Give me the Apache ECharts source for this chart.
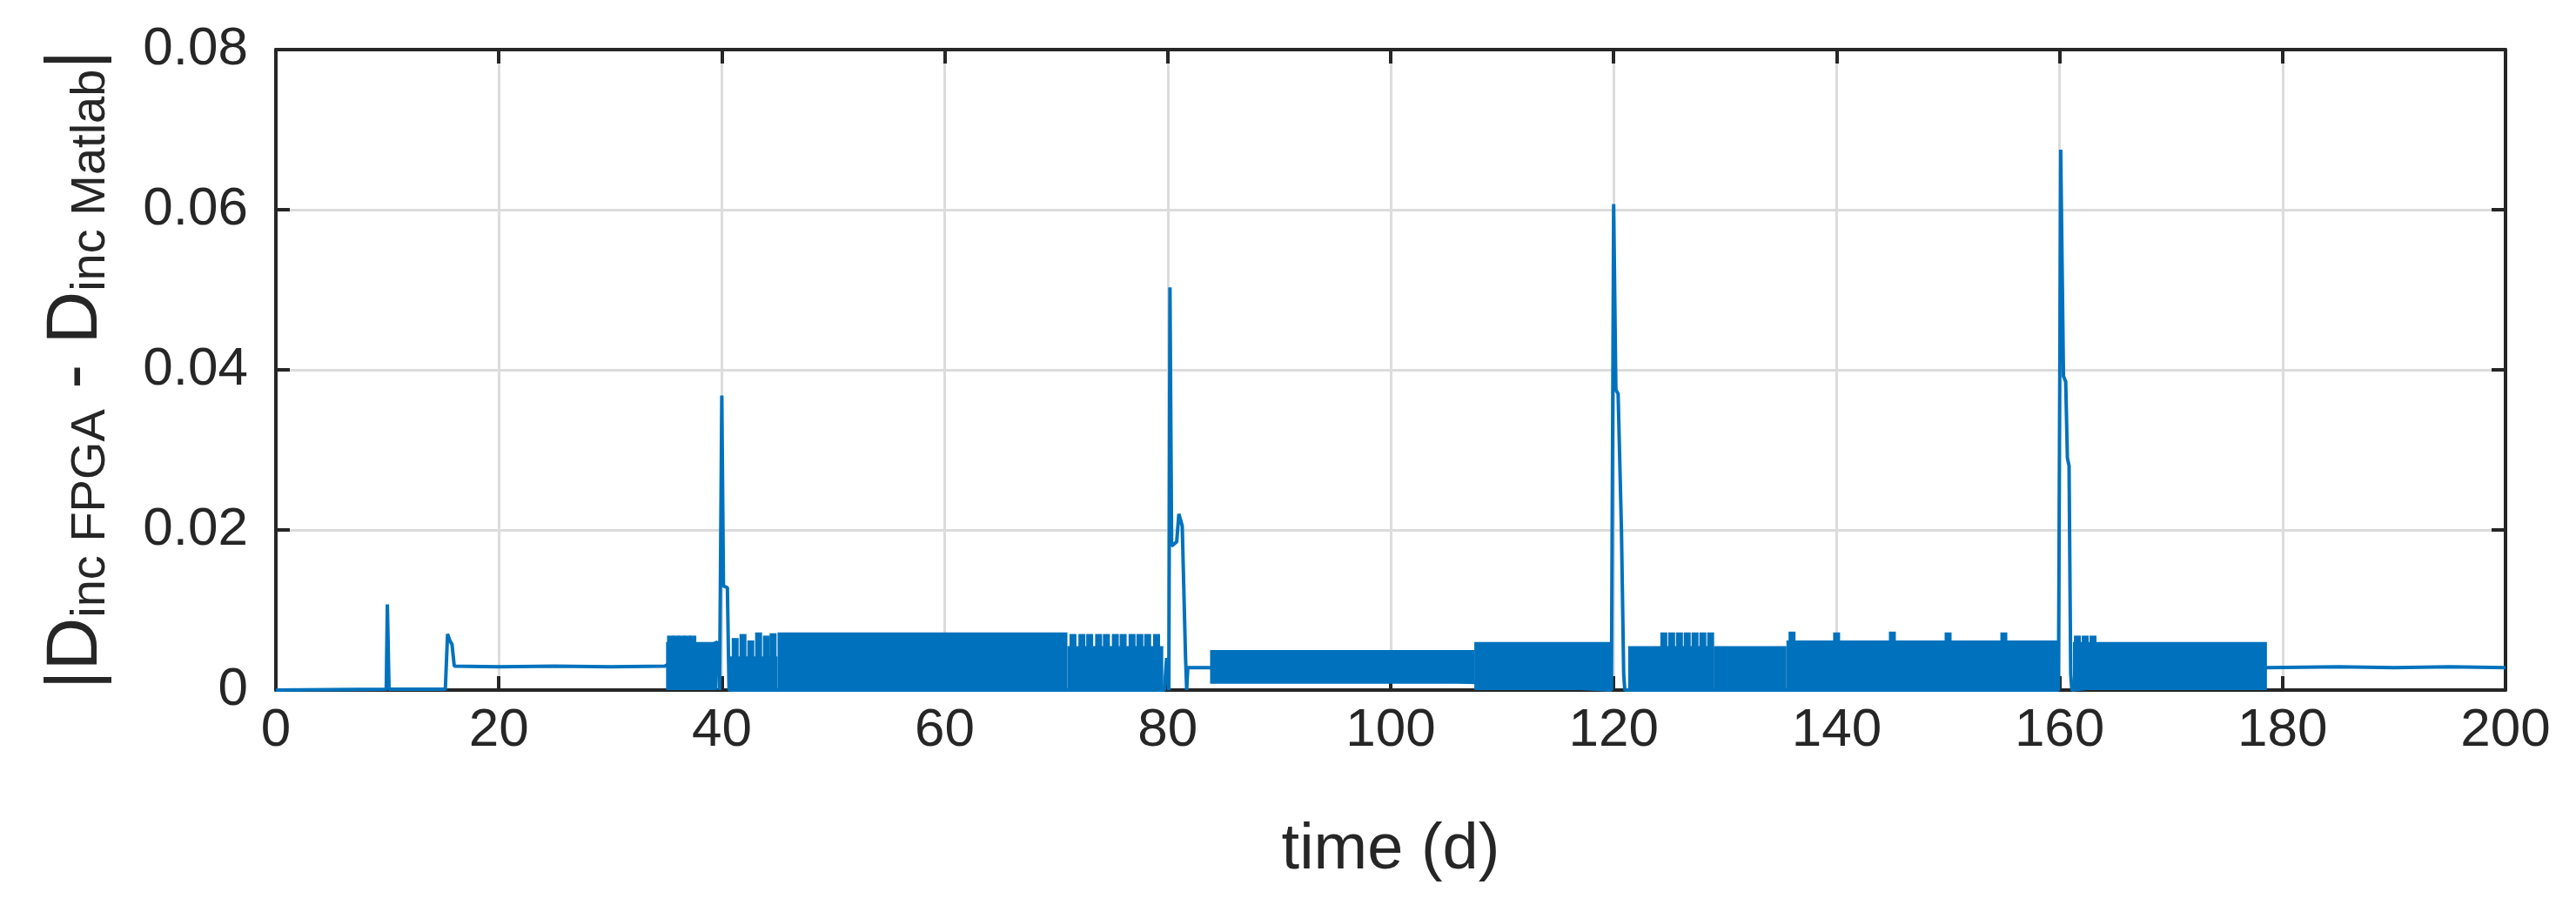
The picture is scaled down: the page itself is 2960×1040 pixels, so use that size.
<!DOCTYPE html>
<html><head><meta charset="utf-8">
<script src="https://cdn.jsdelivr.net/npm/echarts@6/dist/echarts.min.js"></script>
<style>html,body{margin:0;background:#fff}#c{width:2960px;height:1040px}</style>
</head><body><div id="c"></div>
<script>
// Explicit trace points [time, value] for flat parts and spikes
const tracePoints = [
 [0,0],[9.9,0.0001],[10.0,0.0107],[10.15,0.0001],[15.2,0.0001],[15.4,0.007],[15.6,0.0062],[15.8,0.0057],[16.0,0.003],
 [20,0.0029],[25,0.003],[30,0.0029],[34.9,0.003],
 [39.6,0.006],[39.8,0.0],[40.0,0.0368],[40.15,0.013],[40.5,0.0128],[40.65,0.0],
 [79.7,0.0],[79.9,0.004],[80.1,0.0],[80.2,0.0503],[80.35,0.018],[80.8,0.0185],[81.0,0.022],[81.3,0.0205],[81.6,0.004],[81.7,0.0],[81.8,0.0028],[83.6,0.0028],
 [119.8,0.0],[120.0,0.0607],[120.2,0.0375],[120.4,0.037],[120.7,0.02],[120.9,0.002],[121.0,0.0],[121.2,0.0],
 [159.9,0.0],[160.1,0.0675],[160.35,0.0392],[160.55,0.0385],[160.7,0.029],[160.85,0.028],[161.0,0.002],[161.1,0.0],
 [178.6,0.0028],[185,0.0029],[190,0.0028],[195,0.0029],[200,0.0028]
];
// Dense oscillation bands [start, end, low, high]
const bands = [
 [35.0,39.6,0.0,0.0060],
 [40.7,45.0,0.0,0.0042],
 [45.0,71.0,0.0,0.0072],
 [71.0,79.6,0.0,0.0055],
 [83.8,107.5,0.0008,0.0050],
 [107.5,119.8,0.0,0.0060],
 [121.3,129.0,0.0,0.0055],
 [129.0,135.5,0.0,0.0055],
 [135.5,159.8,0.0,0.0062],
 [161.2,178.6,0.0,0.0060]
];
// Isolated teeth [time, height]
const teeth = [
 [35.4,0.0068],[35.9,0.0068],[36.4,0.0068],[36.9,0.0068],[37.4,0.0068],
 [41.2,0.0065],[41.9,0.007],[42.6,0.0062],[43.3,0.0072],[44.0,0.0068],[44.6,0.0071],
 [71.5,0.007],[72.3,0.007],[73.0,0.007],[73.8,0.007],[74.5,0.007],[75.3,0.007],[76.0,0.007],[76.8,0.007],[77.5,0.007],[78.2,0.007],[79.0,0.007],
 [124.5,0.0072],[125.2,0.0072],[125.9,0.0072],[126.6,0.0072],[127.3,0.0072],[128.0,0.0072],[128.7,0.0072],
 [136.0,0.0073],[140.0,0.0072],[145.0,0.0073],[150.0,0.0072],[155.0,0.0072],
 [161.6,0.0068],[162.3,0.0068],[163.0,0.0068]
];
const xTicks = [0,20,40,60,80,100,120,140,160,180,200];
const yTicks = [0,0.02,0.04,0.06,0.08];

const C = '#0072BD', AX = '#262626', F = 'Liberation Sans';
const chart = echarts.init(document.getElementById('c'));
const baseAxis = {
  axisLine:{show:true,onZero:false,lineStyle:{color:AX,width:4}},
  axisTick:{show:true,inside:true,length:16,lineStyle:{color:AX,width:4}},
};
chart.setOption({
  animation:false,
  grid:{left:317,right:81,top:57,bottom:247},
  xAxis:[
   Object.assign({type:'value',min:0,max:200,interval:20,position:'bottom',
     axisLabel:{color:AX,fontSize:62,fontFamily:F,margin:16,formatter:v=>xTicks.includes(v)?String(v):''},
     splitLine:{show:true,lineStyle:{color:'#dcdcdc',width:3}},
     name:'time (d)',nameLocation:'middle',nameGap:148,
     nameTextStyle:{color:AX,fontSize:74,fontFamily:F}},baseAxis),
   Object.assign({type:'value',min:0,max:200,interval:20,position:'top',axisLabel:{show:false},splitLine:{show:false}},baseAxis)
  ],
  yAxis:[
   Object.assign({type:'value',min:0,max:0.08,interval:0.02,position:'left',
     axisLabel:{color:AX,fontSize:62,fontFamily:F,margin:32,formatter:v=>yTicks.includes(v)?(v===0?'0':v.toFixed(2)):''},
     splitLine:{show:true,lineStyle:{color:'#dcdcdc',width:3}},
     name:'|D{s|inc FPGA} - D{s|inc Matlab}|',nameLocation:'middle',nameGap:184,
     nameTextStyle:{color:AX,fontSize:84,fontFamily:F,
       rich:{s:{fontSize:56,fontFamily:F,color:AX,verticalAlign:'bottom',padding:[34,0,0,0]}}}},baseAxis),
   Object.assign({type:'value',min:0,max:0.08,interval:0.02,position:'right',axisLabel:{show:false},splitLine:{show:false}},baseAxis)
  ],
  series:[
   {type:'custom',xAxisIndex:0,yAxisIndex:0,data:bands,
    renderItem:(p,api)=>{const a=api.coord([api.value(0),api.value(3)]),b=api.coord([api.value(1),api.value(2)]);
      return {type:'rect',shape:{x:a[0],y:a[1],width:b[0]-a[0],height:b[1]-a[1]},style:{fill:C}};}},
   {type:'custom',xAxisIndex:0,yAxisIndex:0,data:teeth,
    renderItem:(p,api)=>{const a=api.coord([api.value(0),api.value(1)]),b=api.coord([api.value(0),0]);
      return {type:'rect',shape:{x:a[0]-4,y:a[1],width:8,height:b[1]-a[1]},style:{fill:C}};}},
   {type:'line',xAxisIndex:0,yAxisIndex:0,data:tracePoints,showSymbol:false,lineStyle:{color:C,width:4}}
  ]
});
</script></body></html>
